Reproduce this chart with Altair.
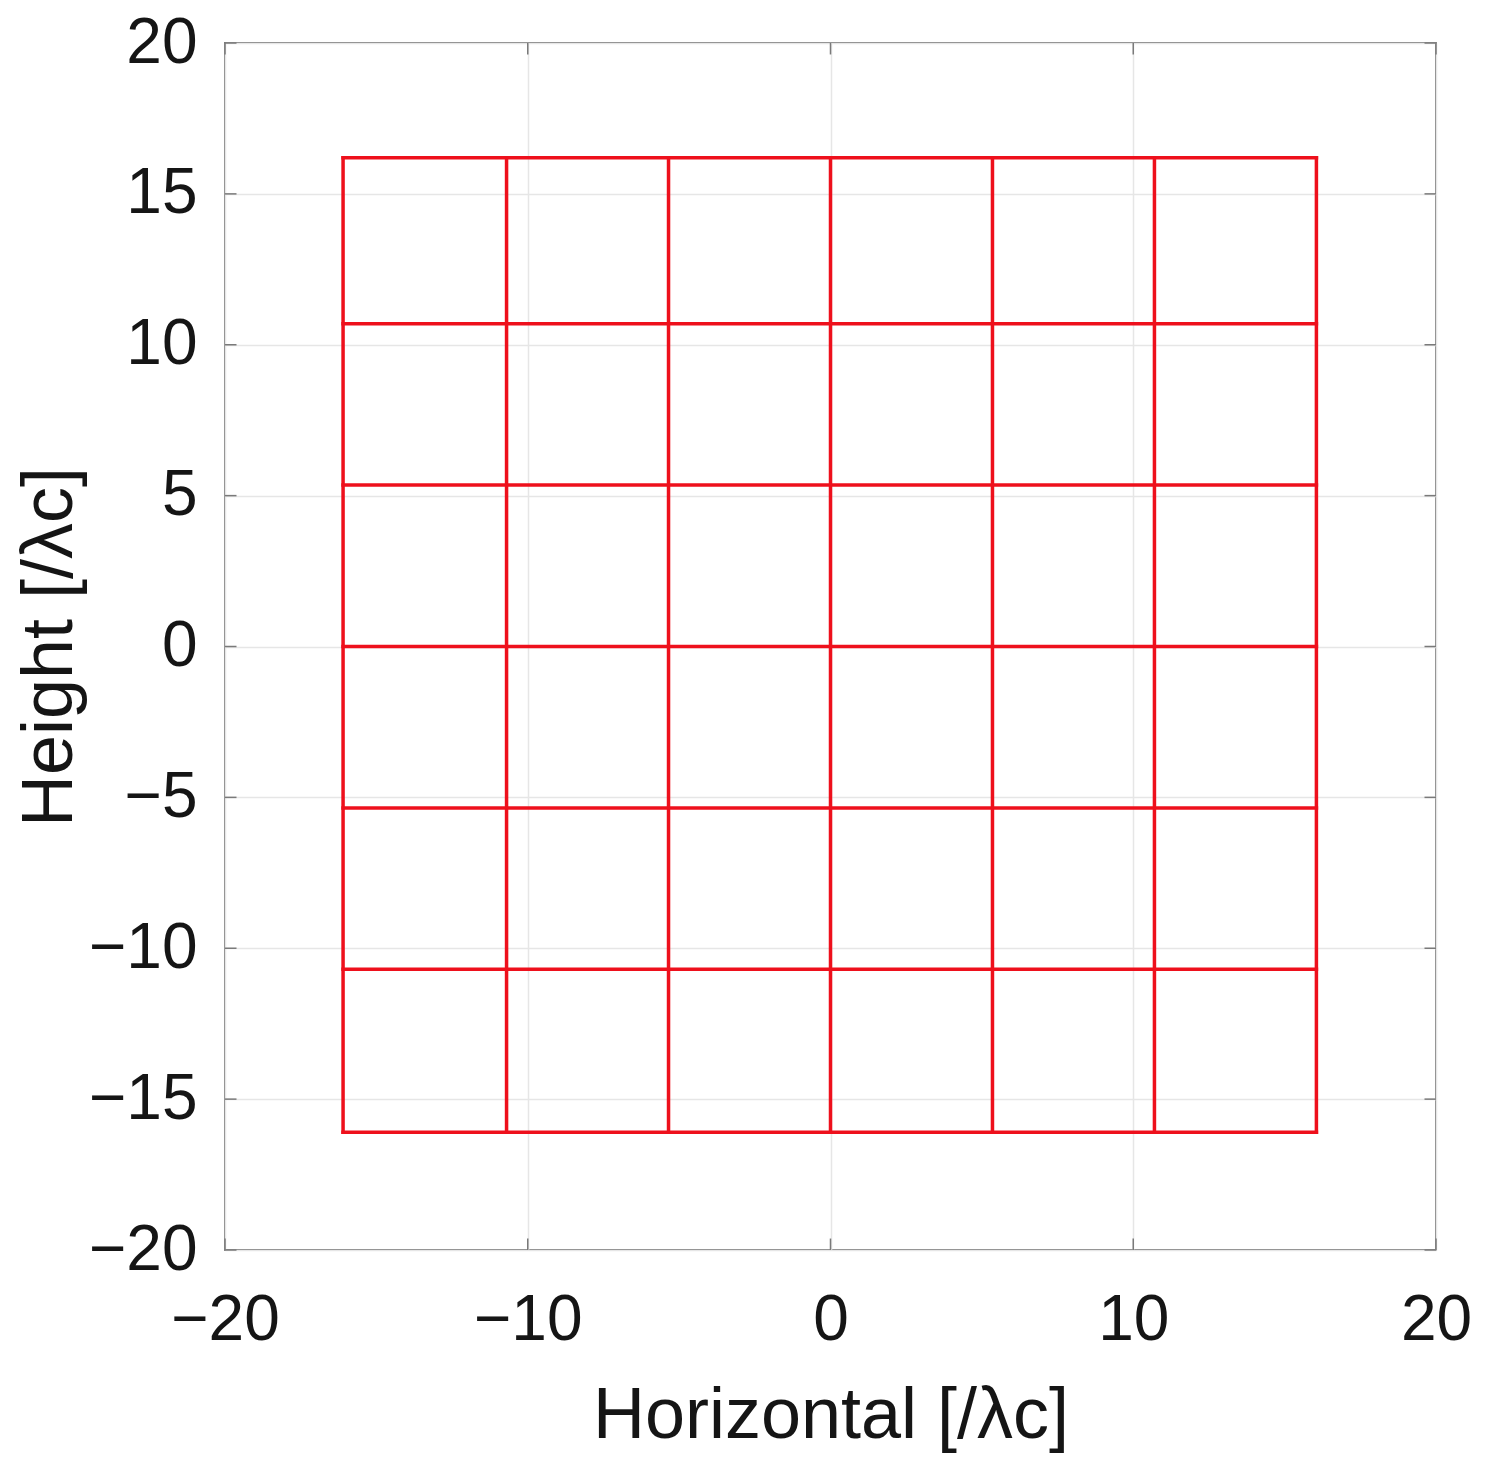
import altair as alt
import pandas as pd

# Red array grid positions (wavelength units)
grid_x = [-16.1, -10.7, -5.35, 0.0, 5.35, 10.7, 16.05]
grid_y = [-16.1, -10.7, -5.35, 0.0, 5.35, 10.7, 16.2]
x_lo, x_hi = -16.1, 16.05
y_lo, y_hi = -16.1, 16.2

# Axis ticks
x_ticks = [-20, -10, 0, 10, 20]
y_ticks = [-20, -15, -10, -5, 0, 5, 10, 15, 20]
lim_lo, lim_hi = -20, 20

TL = 0.38  # inward tick length in data units
RED = "#ee101c"
BOX = "#7a7a7a"

vert = pd.DataFrame({"x": grid_x, "y": y_lo, "y2": y_hi})
horz = pd.DataFrame({"y": grid_y, "x": x_lo, "x2": x_hi})

xt = pd.DataFrame(
    [{"x": t, "y": lim_lo, "y2": lim_lo + TL} for t in x_ticks]
    + [{"x": t, "y": lim_hi, "y2": lim_hi - TL} for t in x_ticks]
)
yt = pd.DataFrame(
    [{"y": t, "x": lim_lo, "x2": lim_lo + TL} for t in y_ticks]
    + [{"y": t, "x": lim_hi, "x2": lim_hi - TL} for t in y_ticks]
)

xs = alt.Scale(domain=[lim_lo, lim_hi], nice=False, zero=False)
ys = alt.Scale(domain=[lim_lo, lim_hi], nice=False, zero=False)

xaxis = alt.Axis(
    title="Horizontal [/λc]", values=x_ticks, grid=True, domain=False,
    ticks=False, tickSize=0, labelPadding=38, titlePadding=28,
    labelFontSize=64, titleFontSize=72, labelFlush=False,
)
yaxis = alt.Axis(
    title="Height [/λc]", values=y_ticks, grid=True, domain=False,
    ticks=False, tickSize=0, labelPadding=28, titlePadding=2,
    labelFontSize=64, titleFontSize=72, labelFlush=False,
)

base_v = alt.Chart(vert).mark_rule(color=RED, strokeWidth=3.5, strokeCap="square").encode(
    x=alt.X("x:Q", scale=xs, axis=xaxis),
    y=alt.Y("y:Q", scale=ys, axis=yaxis),
    y2="y2:Q",
)
base_h = alt.Chart(horz).mark_rule(color=RED, strokeWidth=3.5, strokeCap="square").encode(
    x="x:Q", x2="x2:Q", y="y:Q",
)
ticks_x = alt.Chart(xt).mark_rule(color=BOX, strokeWidth=1.5).encode(
    x="x:Q", y="y:Q", y2="y2:Q",
)
ticks_y = alt.Chart(yt).mark_rule(color=BOX, strokeWidth=1.5).encode(
    y="y:Q", x="x:Q", x2="x2:Q",
)

chart = (
    alt.layer(base_v, base_h, ticks_x, ticks_y)
    .properties(
        width=1211, height=1207,
        autosize=alt.AutoSizeParams(type="none"),
        padding={"left": 217, "top": 35, "right": 40, "bottom": 220},
        background="white",
    )
    .configure_view(stroke=BOX, strokeWidth=2)
    .configure_axis(
        labelFont="Liberation Sans", titleFont="Liberation Sans",
        labelColor="#151515", titleColor="#151515",
        titleFontWeight="normal",
        gridColor="#e6e6e6", gridWidth=1.5,
    )
)

chart.save("out.html", embed_options={"renderer": "svg", "actions": False})
